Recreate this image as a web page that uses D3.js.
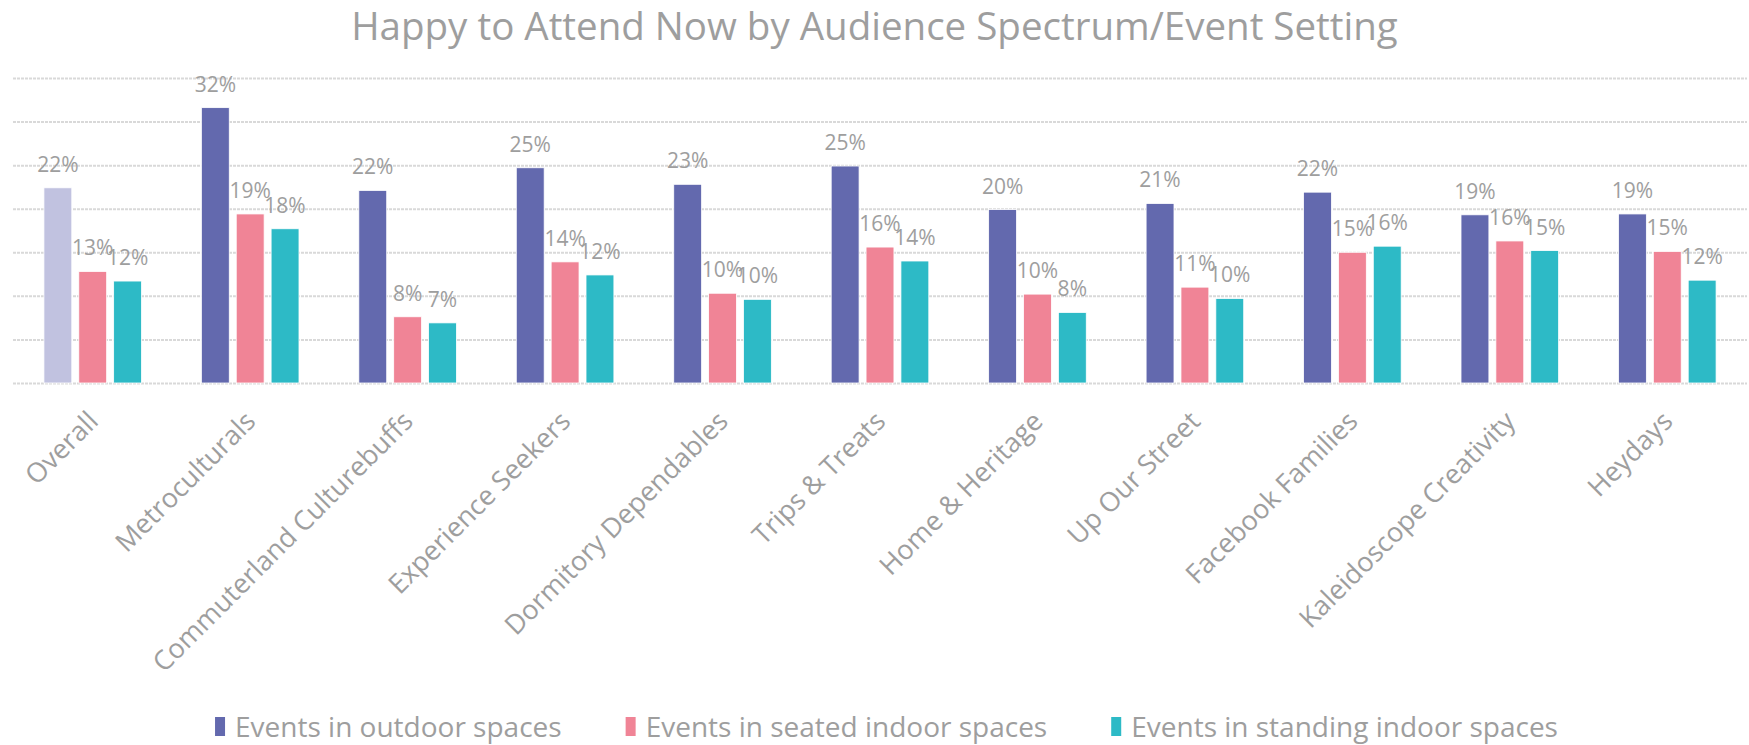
<!DOCTYPE html>
<html>
<head>
<meta charset="utf-8">
<script src="https://cdn.jsdelivr.net/npm/d3@7"></script>
<style>
	body { margin: 0; background: #fff; }
	text { font-family: "Open Sans", sans-serif; fill: #9e9e9e; }
</style>
</head>
<body>
<div id="chart"></div>
<script>
const title = "Happy to Attend Now by Audience Spectrum/Event Setting";

const categories = ["Overall", "Metroculturals", "Commuterland Culturebuffs", "Experience Seekers",
	"Dormitory Dependables", "Trips & Treats", "Home & Heritage", "Up Our Street",
	"Facebook Families", "Kaleidoscope Creativity", "Heydays"];

const seriesNames = ["Events in outdoor spaces", "Events in seated indoor spaces", "Events in standing indoor spaces"];

// % happy to attend now
const outdoor  = [22.4, 31.6, 22.1, 24.7, 22.8, 24.9, 19.9, 20.6, 21.9, 19.3, 19.4];
const seated   = [12.8, 19.4,  7.6, 13.9, 10.3, 15.6, 10.2, 11.0, 15.0, 16.3, 15.1];
const standing = [11.7, 17.7,  6.9, 12.4,  9.6, 14.0,  8.1,  9.7, 15.7, 15.2, 11.8];

const yTicks = [0, 5, 10, 15, 20, 25, 30, 35];

const colors = ["#6369ae", "#f08496", "#2dbac6"];
const overallColor = "#c1c2e0";

let width = 1749;
let height = 745;
let margin = ({top: 78, right: 3, bottom: 362, left: 14});

const svg = d3.select("#chart").append("svg")
	.attr("width", width)
	.attr("height", height);

const values = [outdoor, seated, standing];
const data = categories.map((c, i) => ({
	category: c,
	bars: seriesNames.map((s, j) => ({series: s, idx: j, cat: i, value: values[j][i]}))
}));

let x0 = d3.scaleBand()
	.domain(categories)
	.range([margin.left, width - margin.right]);

let x1 = d3.scaleBand()
	.domain(seriesNames)
	.range([x0.bandwidth() * 0.19, x0.bandwidth() * 0.81])
	.paddingInner(0.2);

let y = d3.scaleLinear()
	.domain([0, 35])
	.range([height - margin.bottom, margin.top]);

// gridlines
svg.append("g")
	.attr("transform", `translate(${margin.left - 1},0)`)
	.call(d3.axisLeft(y).tickValues(yTicks).tickSize(-(width - margin.left - margin.right + 2)).tickFormat(""))
	.call(g => g.select(".domain").remove())
	.call(g => g.selectAll(".tick line")
		.attr("stroke", "#d9d9d9")
		.attr("stroke-width", 2)
		.attr("stroke-dasharray", "3 1"));

// bars
const group = svg.append("g")
	.selectAll("g")
	.data(data)
	.join("g")
	.attr("transform", d => `translate(${x0(d.category)},0)`);

group.selectAll("rect")
	.data(d => d.bars)
	.join("rect")
	.attr("x", d => x1(d.series))
	.attr("y", d => y(d.value))
	.attr("width", x1.bandwidth())
	.attr("height", d => y(0) - y(d.value))
	.attr("fill", d => (d.cat === 0 && d.idx === 0) ? overallColor : colors[d.idx])
	.attr("stroke", "#fff")
	.attr("stroke-width", 0.8);

group.selectAll("text")
	.data(d => d.bars)
	.join("text")
	.attr("x", d => x1(d.series) + x1.bandwidth() / 2)
	.attr("y", d => y(d.value) - 16)
	.attr("text-anchor", "middle")
	.style("font-size", "21px")
	.text(d => Math.round(d.value) + "%");

// category axis
svg.append("g")
	.attr("transform", `translate(0,${y(0)})`)
	.call(d3.axisBottom(x0).tickSize(0))
	.call(g => g.select(".domain").remove())
	.call(g => g.selectAll(".tick text")
		.attr("x", 0).attr("y", 0).attr("dy", 0)
		.attr("transform", "translate(7,40) rotate(-45)")
		.attr("text-anchor", "end")
		.attr("fill", "#9e9e9e")
		.style("font-family", "'Open Sans', sans-serif")
		.style("font-size", "27px"));

// title
svg.append("text")
	.attr("x", width / 2)
	.attr("y", 40)
	.attr("text-anchor", "middle")
	.style("font-size", "38.5px")
	.text(title);

// legend
const gap = 64;
const legend = svg.append("g");
let lx = 0;
const items = legend.selectAll("g")
	.data(seriesNames)
	.join("g");
items.append("rect")
	.attr("x", 0)
	.attr("y", -20)
	.attr("width", 10)
	.attr("height", 19)
	.attr("fill", (d, i) => colors[i]);
items.append("text")
	.attr("x", 20)
	.attr("y", 0)
	.style("font-size", "28px")
	.text(d => d);
items.each(function() {
	d3.select(this).attr("transform", `translate(${lx},0)`);
	lx += this.getBBox().width + gap;
});
lx -= gap;
legend.attr("transform", `translate(${(206 + 1567) / 2 - lx / 2},737)`);
</script>
</body>
</html>
